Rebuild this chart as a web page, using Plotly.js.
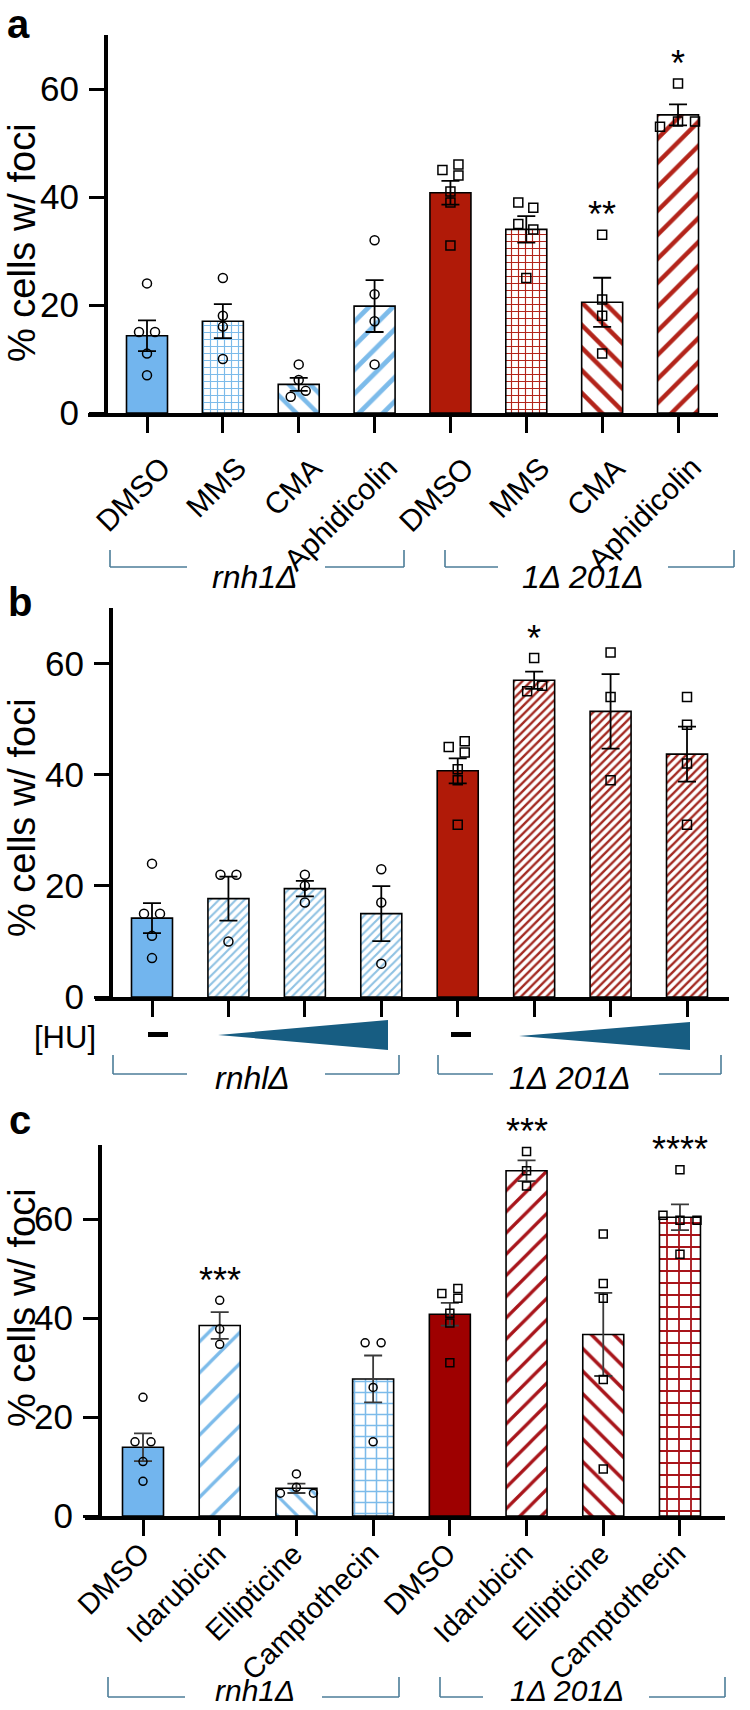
<!DOCTYPE html>
<html>
<head>
<meta charset="utf-8">
<script src="https://cdn.plot.ly/plotly-3.0.1.min.js"></script>
<style>
  html, body { margin: 0; padding: 0; background: #fff; }
  #fig { width: 750px; height: 1710px; }
</style>
</head>
<body>
<div id="fig"></div>
<script>
// ---------- data ----------
// a: drug treatments
const catsA = ['DMSO', 'MMS', 'CMA', 'Aphidicolin', 'DMSO', 'MMS', 'CMA', 'Aphidicolin'];
const meanA = [14.3, 17.0, 5.3, 19.8, 40.8, 34.0, 20.5, 55.2];
const semA  = [2.85, 3.15, 1.2, 4.8, 2.2, 2.45, 4.55, 1.95];
const ptsA  = [[24, 15, 15, 11, 7], [25, 18, 16, 10], [9, 6.1, 4.1, 3], [32, 22, 17, 9],
               [46, 45, 44, 41, 39, 31], [39, 38, 35, 34, 25], [33, 21, 18, 11], [61, 54, 54, 53]];
const sigA  = ['', '', '', '', '', '', '**', '*'];

// b: hydroxyurea series
const meanB = [14.2, 17.7, 19.5, 15.0, 40.7, 57.0, 51.4, 43.7];
const semB  = [2.7, 3.95, 1.4, 4.95, 2.25, 1.55, 6.7, 4.95];
const ptsB  = [[24, 15, 15, 11, 7], [22, 22, 10], [22, 20, 17], [23, 17, 6],
               [46, 45, 44, 41, 39, 31], [61, 56, 55], [62, 54, 39], [54, 49, 42, 31]];
const sigB  = ['', '', '', '', '', '*', '', ''];

// c: topoisomerase drugs
const catsC = ['DMSO', 'Idarubicin', 'Ellipticine', 'Camptothecin', 'DMSO', 'Idarubicin', 'Ellipticine', 'Camptothecin'];
const meanC = [13.9, 38.5, 5.6, 27.7, 40.8, 69.8, 36.7, 60.4];
const semC  = [2.8, 2.7, 0.95, 4.75, 2.3, 2.1, 8.4, 2.6];
const ptsC  = [[24, 15, 15, 11, 7], [43.6, 37.8, 34.7], [8.5, 5.8, 4.6, 4.6], [35, 35, 26, 15],
               [46, 45, 44, 41, 39, 31], [73.7, 69.8, 66.7], [57, 47, 44, 27.6, 9.5], [70, 60.8, 59.8, 59.8, 52.9]];
const sigC  = ['', '***', '', '', '', '***', '', '****'];

const groupNames = ['rnh1Δ', '1Δ 201Δ'];
const groupNamesB = ['rnhlΔ', '1Δ 201Δ'];

// ---------- layout helpers ----------
const W = 750, H = 1710;
const fx = p => p / W;
const fy = p => 1 - p / H;
const FONT = 'Liberation Sans, Arial, Helvetica, sans-serif';

// horizontal spread of replicate dots (px)
const jitA = [[0, -8, 8, 0, 0], [0, 0, 0, 0], [0, 0, 7, -8], [0, 0, 0, 0],
              [8, -8, 8, 0, 0, 0], [-8, 7, -8, 7, 0], [0, 0, 0, 0], [0, 0, 17, -18]];
const jitB = [[0, -8, 8, 0, 0], [-8, 8, 0], [0, 0, 0], [0, 0, 0],
              [7, -9, 7, 0, 0, 0], [0, 8, -7], [0, 0, 0], [0, 0, 0, 0]];
const jitC = [[0, -8, 8, 0, 0], [0, 0, 0], [0, 0, -16, 17], [-8, 8, 0, 0],
              [8, -8, 8, 0, 0, 0], [0, 0, 0], [0, 0, 0, 0, 0], [0, -17, 0, 17, 0]];

// bar fills
const BLUE = '#72b5ee', BLUE_P = '#7cbbea', BLUE_T = '#8fc2e3';
const RED = '#b01a08', RED_P = '#b3241a', RED_T = '#a32a22', RED_C = '#9e0000', RED_CP = '#a8141a';
const solid = c => ({ color: c });
const pat = (shape, fg, size, sol) => ({ color: '#ffffff', shape, fg, size, sol });

const fillsA = [solid(BLUE), pat('+', BLUE_P, 7, 0.3), pat('\\', BLUE_P, 15, 0.3), pat('/', BLUE_P, 17, 0.28),
                solid(RED), pat('+', RED_P, 7, 0.3), pat('\\', RED_P, 16, 0.28), pat('/', RED_P, 17, 0.26)];
const fillsB = [solid(BLUE), pat('/', BLUE_T, 6, 0.35), pat('/', BLUE_T, 6, 0.35), pat('/', BLUE_T, 6, 0.35),
                solid(RED), pat('/', RED_T, 6, 0.4), pat('/', RED_T, 6, 0.4), pat('/', RED_T, 6, 0.4)];
const fillsC = [solid(BLUE), pat('/', BLUE_P, 22, 0.15), pat('\\', BLUE_P, 14, 0.22), pat('+', BLUE_P, 11, 0.26),
                solid(RED_C), pat('/', RED_CP, 15, 0.22), pat('\\', RED_CP, 16, 0.22), pat('+', RED_CP, 12, 0.28)];

const panels = [
  { mean: meanA, sem: semA, pts: ptsA, jit: jitA, sig: sigA, fills: fillsA, cats: catsA,
    xPix: [88, 718], yAx: 105, yPix: [35, 413], yMax: 70, c0: 147, step: 75.86, titleY: 243,
    mk: 9, err: '#000', lblDx: 32, lblDy: -35, lblSize: 30 },
  { mean: meanB, sem: semB, pts: ptsB, jit: jitB, sig: sigB, fills: fillsB, cats: null,
    xPix: [95, 729], yAx: 110, yPix: [608, 997], yMax: 70, c0: 152, step: 76.43, titleY: 818,
    mk: 9, err: '#000' },
  { mean: meanC, sem: semC, pts: ptsC, jit: jitC, sig: sigC, fills: fillsC, cats: catsC,
    xPix: [85, 725], yAx: 99, yPix: [1145, 1516], yMax: 75, c0: 143, step: 76.71, titleY: 1308,
    mk: 8, err: '#3a3a3a', lblDx: 15, lblDy: -18, lblSize: 29 }
];

const traces = [];
const layout = {
  width: W, height: H,
  margin: { l: 0, r: 0, t: 0, b: 0 },
  paper_bgcolor: '#fff', plot_bgcolor: 'rgba(0,0,0,0)',
  showlegend: false,
  barmode: 'overlay',
  font: { family: FONT, color: '#000' },
  annotations: [],
  shapes: []
};

panels.forEach((p, k) => {
  const xa = k === 0 ? 'x' : 'x' + (k + 1);
  const ya = k === 0 ? 'y' : 'y' + (k + 1);
  const idx = p.mean.map((_, i) => i);

  // one bar per condition so each gets its own fill
  p.mean.forEach((m, i) => {
    const f = p.fills[i];
    const marker = { color: f.color, opacity: 1, line: { color: '#000', width: 1.6 } };
    if (f.shape) {
      marker.pattern = { shape: f.shape, fgcolor: f.fg, bgcolor: '#ffffff',
                         size: f.size, solidity: f.sol, fillmode: 'replace' };
    }
    traces.push({
      type: 'bar', x: [i], y: [m], xaxis: xa, yaxis: ya,
      width: 41 / p.step, marker,
      error_y: { type: 'data', array: [p.sem[i]], visible: true, color: p.err, thickness: 1.8, width: 9 },
      hoverinfo: 'skip'
    });
  });

  const px = [], py = [], sym = [];
  p.pts.forEach((vals, i) => {
    vals.forEach((v, j) => {
      px.push(i + p.jit[i][j] / p.step);
      py.push(v);
      sym.push(i < 4 ? 'circle-open' : 'square-open');
    });
  });
  traces.push({
    type: 'scatter', mode: 'markers', x: px, y: py, xaxis: xa, yaxis: ya,
    cliponaxis: false,
    marker: { symbol: sym, size: p.mk, color: '#000', line: { color: '#000', width: 1.5 } },
    hoverinfo: 'skip'
  });

  const x0 = (p.xPix[0] - p.c0) / p.step, x1 = (p.xPix[1] - p.c0) / p.step;
  layout['xaxis' + (k === 0 ? '' : k + 1)] = {
    domain: [fx(p.xPix[0]), fx(p.xPix[1])], range: [x0, x1], anchor: ya,
    showline: true, linecolor: '#000', linewidth: 3.5,
    ticks: 'outside', ticklen: 16, tickwidth: 3, tickcolor: '#000',
    tickvals: idx, showticklabels: false,
    showgrid: false, zeroline: false, fixedrange: true
  };
  layout['yaxis' + (k === 0 ? '' : k + 1)] = {
    domain: [fy(p.yPix[1]), fy(p.yPix[0])], range: [0, p.yMax],
    anchor: 'free', position: fx(p.yAx),
    showline: true, linecolor: '#000', linewidth: 3.5,
    ticks: 'outside', ticklen: 15, tickwidth: 3, tickcolor: '#000',
    tickvals: [0, 20, 40, 60], ticklabelstandoff: 3,
    tickfont: { family: FONT, size: 35, color: '#000' },
    showgrid: false, zeroline: false, fixedrange: true
  };

  // slanted category labels, each ending just right of its tick
  if (p.cats) {
    p.cats.forEach((c, i) => {
      layout.annotations.push({
        xref: xa, yref: ya, x: i, y: 0, xanchor: 'right', yanchor: 'top',
        xshift: p.lblDx, yshift: p.lblDy, textangle: -45,
        text: c, showarrow: false, font: { family: FONT, size: p.lblSize, color: '#000' }
      });
    });
  }

  // significance marks
  p.sig.forEach((s, i) => {
    if (!s) return;
    layout.annotations.push({
      xref: xa, yref: ya, x: i, y: Math.max(...p.pts[i]), yanchor: 'middle', yshift: 20,
      text: s, showarrow: false, font: { family: FONT, size: 36, color: '#000' }
    });
  });

  // axis title
  layout.annotations.push({
    xref: 'paper', yref: 'paper', x: fx(22), y: fy(p.titleY),
    xanchor: 'center', yanchor: 'middle', textangle: -90,
    text: '% cells w/ foci', showarrow: false, font: { family: FONT, size: 38, color: '#000' }
  });
});

// panel letters
[['a', 18, 24], ['b', 20, 602], ['c', 20, 1120]].forEach(([t, x, y]) => {
  layout.annotations.push({
    xref: 'paper', yref: 'paper', x: fx(x), y: fy(y), xanchor: 'center', yanchor: 'middle',
    text: '<b>' + t + '</b>', showarrow: false, font: { family: FONT, size: 40, color: '#000' }
  });
});

// strain brackets under each panel
const BR = '#4c7d98';
const brackets = [
  { top: 550, bot: 567, text: 577, size: 32, names: groupNames,
    segs: [[110, 187, 325, 404], [445, 498, 668, 734]], cx: [255, 583] },
  { top: 1055, bot: 1074, text: 1078, size: 32, names: groupNamesB,
    segs: [[113, 187, 325, 399], [438, 493, 659, 721]], cx: [252, 570] },
  { top: 1677, bot: 1697, text: 1690, size: 30, names: groupNames,
    segs: [[108, 185, 322, 399], [440, 483, 649, 725]], cx: [255, 567] }
];
brackets.forEach(b => {
  b.segs.forEach((s, g) => {
    const line = (xa, ya, xb, yb) => layout.shapes.push({
      type: 'line', xref: 'paper', yref: 'paper', x0: fx(xa), y0: fy(ya), x1: fx(xb), y1: fy(yb),
      line: { color: BR, width: 1.6 }
    });
    line(s[0], b.top, s[0], b.bot);
    line(s[0], b.bot, s[1], b.bot);
    line(s[2], b.bot, s[3], b.bot);
    line(s[3], b.bot, s[3], b.top);
    layout.annotations.push({
      xref: 'paper', yref: 'paper', x: fx(b.cx[g]), y: fy(b.text), xanchor: 'center', yanchor: 'middle',
      text: '<i>' + b.names[g] + '</i>', showarrow: false, font: { family: FONT, size: b.size, color: '#000' }
    });
  });
});

// [HU] dose row in panel b
layout.annotations.push({
  xref: 'paper', yref: 'paper', x: fx(65), y: fy(1037), xanchor: 'center', yanchor: 'middle',
  text: '[HU]', showarrow: false, font: { family: FONT, size: 31, color: '#000' }
});
const TRI = '#175d82';
[[148, 168], [451, 471]].forEach(([a, b]) => layout.shapes.push({
  type: 'rect', xref: 'paper', yref: 'paper', x0: fx(a), x1: fx(b), y0: fy(1032), y1: fy(1037),
  fillcolor: '#000', line: { width: 0 }
}));
[[218, 1035, 388, 1020, 1050], [519, 1036, 690, 1022, 1050]].forEach(([xa, ya, xb, yt, yb]) => {
  layout.shapes.push({
    type: 'path', xref: 'paper', yref: 'paper',
    path: `M ${fx(xa)} ${fy(ya)} L ${fx(xb)} ${fy(yt)} L ${fx(xb)} ${fy(yb)} Z`,
    fillcolor: TRI, line: { width: 0 }
  });
});

Plotly.newPlot('fig', traces, layout, { staticPlot: true, displayModeBar: false });
</script>
</body>
</html>
